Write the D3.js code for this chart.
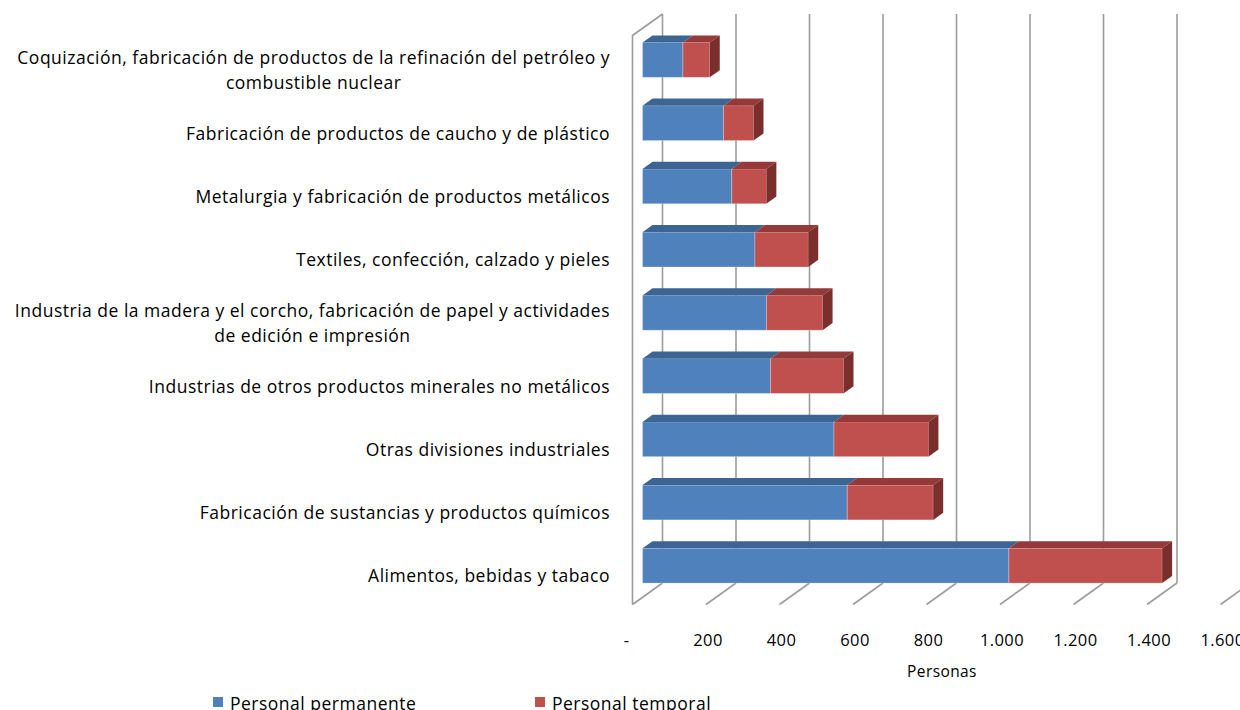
<!DOCTYPE html>
<html>
<head>
<meta charset="utf-8">
<script src="https://cdn.jsdelivr.net/npm/d3@7"></script>
<style>
body { margin: 0; background: #fff; }
svg { display: block; }
</style>
</head>
<body>
<script>
// data
var categories = [
    "Coquización, fabricación de productos de la refinación del petróleo y combustible nuclear",
    "Fabricación de productos de caucho y de plástico",
    "Metalurgia y fabricación de productos metálicos",
    "Textiles, confección, calzado y pieles",
    "Industria de la madera y el corcho, fabricación de papel y actividades de edición e impresión",
    "Industrias de otros productos minerales no metálicos",
    "Otras divisiones industriales",
    "Fabricación de sustancias y productos químicos",
    "Alimentos, bebidas y tabaco"
];
var permanente = [110, 220, 243, 306, 337, 348, 521, 557, 997];
var temporal   = [73, 82, 94, 145, 153, 199, 257, 234, 417];
var seriesNames = ["Personal permanente", "Personal temporal"];
var tickValues = [0, 200, 400, 600, 800, 1000, 1200, 1400, 1600];
var axisTitle = "Personas";

var width = 1240, height = 710;
var font = "'Open Sans', sans-serif";

// 3d depth of the plot box (back wall -> front edge)
var depthX = -30, depthY = 21.5;
var wallTop = 14, wallBottom = 583;

var colors = {
    front: ["#4f81bd", "#c0504d"],
    top:   ["#3c6594", "#953a38"],
    side:  ["#35597f", "#7b2f2d"]
};

var svg = d3.select("body").append("svg")
    .attr("width", width)
    .attr("height", height)
    .style("font-family", font);

// scales on the back wall
var x = d3.scaleLinear()
    .domain([0, 1600])
    .range([662.5, 1250.5]);

var y = d3.scaleBand()
    .domain(categories)
    .range([wallTop, wallBottom])
    .paddingInner(0.45)
    .paddingOuter(0.225);

// front plane versions of the scales
var xFront = x.copy().range(x.range().map(function(d) { return d + depthX; }));
var yFront = y.copy().range([wallTop + depthY, wallBottom + depthY]);

function px(v, z) { return x(v) + depthX * z; }

var lineColor = "#9c9c9c";
var grid = svg.append("g")
    .attr("stroke", lineColor)
    .attr("stroke-width", 1.6)
    .attr("fill", "none");

// back wall gridlines
grid.selectAll(".vline")
    .data(tickValues)
    .enter().append("line")
    .attr("x1", function(d) { return x(d); })
    .attr("x2", function(d) { return x(d); })
    .attr("y1", wallTop)
    .attr("y2", wallBottom);

// floor lines
grid.selectAll(".fline")
    .data(tickValues)
    .enter().append("line")
    .attr("x1", function(d) { return x(d); })
    .attr("x2", function(d) { return xFront(d); })
    .attr("y1", wallBottom)
    .attr("y2", wallBottom + depthY);

// left wall edge
grid.append("path")
    .attr("d", d3.line()([
        [xFront(0), wallBottom + depthY],
        [xFront(0), wallTop + depthY],
        [x(0), wallTop]
    ]));

// stacked 3d bars
var rows = categories.map(function(c, i) {
    return { cat: c, segs: [[0, permanente[i]], [permanente[i], permanente[i] + temporal[i]]] };
});

var zFront = 2 / 3, zBack = 1 / 3;
var bh = y.bandwidth();

var bar = svg.selectAll(".bar")
    .data(rows)
    .enter().append("g")
    .attr("class", "bar");

bar.each(function(d) {
    var g = d3.select(this);
    var top = y(d.cat) + depthY * zFront;
    var topBack = y(d.cat) + depthY * zBack;
    d.segs.forEach(function(s, k) {
        // front face
        g.append("rect")
            .attr("x", px(s[0], zFront))
            .attr("y", top)
            .attr("width", px(s[1], zFront) - px(s[0], zFront))
            .attr("height", bh)
            .attr("fill", colors.front[k])
            .attr("stroke", "rgba(255,255,255,0.35)")
            .attr("stroke-width", 0.8);
        // top face
        g.append("path")
            .attr("d", d3.line()([
                [px(s[0], zFront), top],
                [px(s[1], zFront), top],
                [px(s[1], zBack), topBack],
                [px(s[0], zBack), topBack]
            ]) + "Z")
            .attr("fill", colors.top[k]);
        // right side face
        if (k === d.segs.length - 1) {
            g.append("path")
                .attr("d", d3.line()([
                    [px(s[1], zFront), top],
                    [px(s[1], zBack), topBack],
                    [px(s[1], zBack), topBack + bh],
                    [px(s[1], zFront), top + bh]
                ]) + "Z")
                .attr("fill", colors.side[k]);
        }
    });
});

// value axis on the front edge
var fmt = d3.formatLocale({ decimal: ",", thousands: ".", grouping: [3], currency: ["", ""] }).format(",d");

var xAxis = svg.append("g")
    .attr("transform", "translate(1.5," + 634 + ")")
    .call(d3.axisBottom(xFront)
        .tickValues(tickValues)
        .tickSize(0)
        .tickPadding(0)
        .tickFormat(function(d) { return d === 0 ? "-" : fmt(d); }));
xAxis.select(".domain").remove();
xAxis.selectAll("text")
    .attr("fill", "#000")
    .style("font-family", font)
    .style("font-size", "16.5px")
    .style("letter-spacing", "0.4px")
    .attr("dx", function(d) { return d === 0 ? -8 : 0; });

svg.append("text")
    .attr("x", 942)
    .attr("y", 677)
    .attr("text-anchor", "middle")
    .attr("font-size", "15.5px")
    .style("letter-spacing", "0.4px")
    .attr("fill", "#000")
    .text(axisTitle);

// category axis, labels wrapped and centred like Excel does
var yAxis = svg.append("g")
    .attr("transform", "translate(610,0)")
    .call(d3.axisLeft(yFront)
        .tickSize(0)
        .tickPadding(0));
yAxis.select(".domain").remove();

var labelSize = 17.5, lineH = 25, maxW = 606;
yAxis.selectAll("text")
    .attr("fill", "#000")
    .style("font-family", font)
    .style("font-size", labelSize + "px")
    .style("letter-spacing", "0.5px")
    .each(function() {
        var text = d3.select(this);
        var words = text.text().split(/\s+/);
        text.text(null).attr("dy", null).attr("x", null);
        var lines = [], line = [];
        var tspan = text.append("tspan");
        words.forEach(function(w) {
            line.push(w);
            tspan.text(line.join(" "));
            if (tspan.node().getComputedTextLength() > maxW && line.length > 1) {
                line.pop();
                lines.push(line.join(" "));
                line = [w];
            }
        });
        lines.push(line.join(" "));
        tspan.remove();
        var spans = lines.map(function(l, i) {
            return text.append("tspan")
                .attr("x", 0)
                .attr("y", 9.5 + (i - (lines.length - 1) / 2) * lineH)
                .text(l);
        });
        if (lines.length > 1) {
            var w = d3.max(spans, function(s) { return s.node().getComputedTextLength(); });
            text.attr("text-anchor", "middle");
            spans.forEach(function(s) { s.attr("x", -w / 2); });
        }
    });

// legend
var legend = svg.append("g")
    .attr("font-size", "17.5px")
    .style("letter-spacing", "0.5px");
var legendX = [213, 535];
seriesNames.forEach(function(name, i) {
    legend.append("rect")
        .attr("x", legendX[i])
        .attr("y", 697)
        .attr("width", 10)
        .attr("height", 10)
        .attr("fill", colors.front[i]);
    legend.append("text")
        .attr("x", legendX[i] + 17)
        .attr("y", 710)
        .attr("fill", "#000")
        .text(name);
});
</script>
</body>
</html>
